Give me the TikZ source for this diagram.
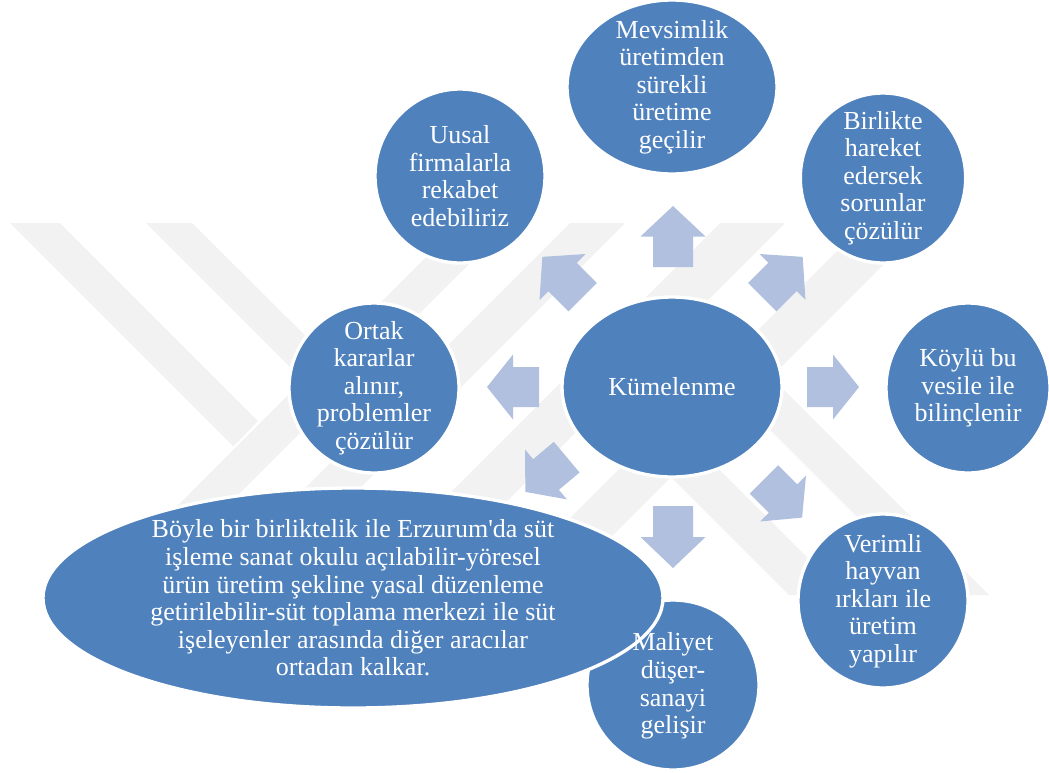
\documentclass[tikz,border=0pt]{standalone}
\usepackage{fontspec}
\setmainfont{Liberation Serif}
\usetikzlibrary{shapes.geometric}

\definecolor{bubbleblue}{RGB}{79,129,189}
\definecolor{arrowblue}{RGB}{176,192,222}
\definecolor{markgray}{RGB}{242,242,242}

\begin{document}
\begin{tikzpicture}[
  x=0.75pt, y=-0.75pt,
  bubble/.style={ellipse, fill=bubbleblue, draw=white, line width=2.5pt, inner sep=-12pt,
    align=center, text=white, font=\fontsize{19.5}{20.7}\selectfont},
  txt/.style={align=center, text=white, inner sep=0pt, font=\fontsize{19.5}{20.7}\selectfont},
  wmark/.style={fill=markgray, draw=none},
  pics/blockarr/.style={code={
    \fill[arrowblue] (-#1,-20) -- (0,-20) -- (0,-32.5) -- (#1,0) -- (0,32.5) -- (0,20) -- (-#1,20) -- cycle;
  }}
]
\useasboundingbox (0,0) rectangle (1049,772);

% faint watermark in the back
\fill[wmark] (10,223) -- (60,223) -- (258,421) -- (233.5,446.5) -- cycle;
\fill[wmark] (146,223) -- (192,223) -- (380,410) -- (356.5,433.5) -- cycle;
\fill[wmark] (460,223) -- (510,223) -- (173,560) -- (123,560) -- cycle;
\fill[wmark] (570,223) -- (625,223) -- (288,560) -- (233,560) -- cycle;
\fill[wmark] (720,223) -- (785,223) -- (448,560) -- (383,560) -- cycle;
\fill[wmark] (865,223) -- (925,223) -- (588,560) -- (528,560) -- cycle;
\fill[wmark] (567,373) -- (595,345) -- (845,595) -- (789,595) -- cycle;
\fill[wmark] (712.5,372.5) -- (739.5,345.5) -- (989,595) -- (935,595) -- cycle;

% arrows round the centre
\pic[rotate=90]  at (673,236.5) {blockarr=30.5};
\pic[rotate=45]  at (782.5,277) {blockarr=28.5};
\pic[rotate=0]   at (833,387)   {blockarr=26};
\pic[rotate=-45] at (783,498.5) {blockarr=27};
\pic[rotate=-90] at (673,537)   {blockarr=31};
\pic[rotate=220] at (546,474.5) {blockarr=27};
\pic[rotate=180] at (513,387)   {blockarr=26};
\pic[rotate=135] at (562.5,277) {blockarr=28.5};

% centre
\node[bubble, minimum width=165pt, minimum height=135pt] (kum) at (672,387) {Kümelenme};

% outer bubbles
\node[bubble, minimum width=157.5pt, minimum height=130.5pt] (mev) at (672,87)
  {Mevsimlik\\üretimden\\sürekli\\üretime\\geçilir};
\node[bubble, minimum width=127.5pt, minimum height=130.5pt] (uus) at (460,176)
  {Uusal\\firmalarla\\rekabet\\edebiliriz};
\node[bubble, minimum width=124pt, minimum height=127.5pt] (bir) at (883,178)
  {Birlikte\\hareket\\edersek\\sorunlar\\çözülür};
\node[bubble, minimum width=123pt, minimum height=127.5pt] (koy) at (968,388)
  {Köylü bu\\vesile ile\\bilinçlenir};
\node[bubble, minimum width=127.5pt, minimum height=130.5pt] (ver) at (883,601)
  {Verimli\\hayvan\\ırkları ile\\üretim\\yapılır};
\node[bubble, minimum width=127.5pt, minimum height=127.5pt] (ort) at (374,388)
  {Ortak\\kararlar\\alınır,\\problemler\\çözülür};
\node[bubble, minimum width=129pt, minimum height=127.5pt] (mal) at (673,685) {};

% large bubble lies over the lower one
\node[bubble, minimum width=465pt, minimum height=165pt] (big) at (353,598)
  {Böyle bir birliktelik ile Erzurum\textquotesingle da süt\\
   işleme sanat okulu açılabilir-yöresel\\
   ürün üretim şekline yasal düzenleme\\
   getirilebilir-süt toplama merkezi ile süt\\
   işeleyenler arasında diğer aracılar\\
   ortadan kalkar.};
\node[txt] (maltxt) at (673,686) {Maliyet\\düşer-\\sanayi\\gelişir};

\end{tikzpicture}
\end{document}
